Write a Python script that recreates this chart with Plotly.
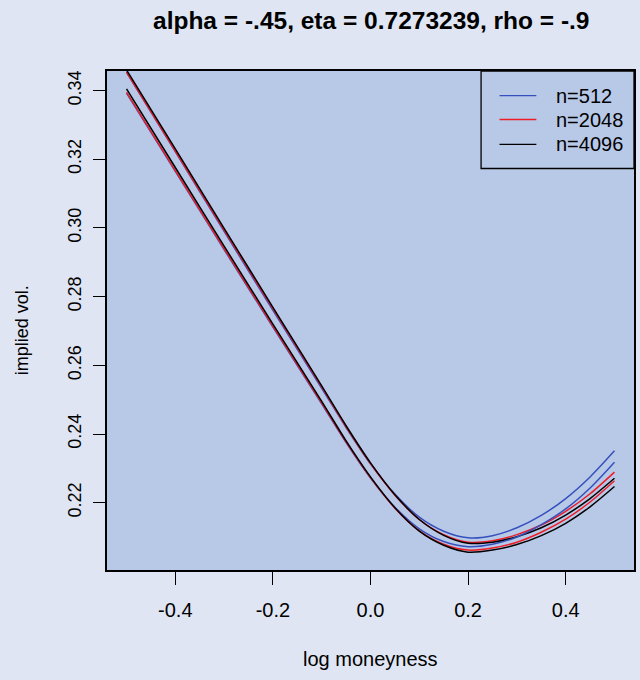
import plotly.graph_objects as go

# ---- data ----
log_moneyness = [-0.5, -0.4, -0.3, -0.2, -0.1, -0.05, 0.0, 0.05, 0.1, 0.15, 0.2,
                 0.25, 0.3, 0.35, 0.4, 0.45, 0.5]

iv_a_512 = [0.3453, 0.3222, 0.2990, 0.2760, 0.2533, 0.2419, 0.2313, 0.2225, 0.2158,
            0.2117, 0.2098, 0.2104, 0.2127, 0.2163, 0.2212, 0.2275, 0.2351]
iv_a_2048 = [0.3454, 0.3224, 0.2994, 0.2765, 0.2537, 0.2421, 0.2314, 0.2222, 0.2151,
             0.2107, 0.2085, 0.2089, 0.2107, 0.2135, 0.2175, 0.2226, 0.2289]
iv_a_4096 = [0.3460, 0.3230, 0.2999, 0.2769, 0.2540, 0.2424, 0.2316, 0.2223, 0.2151,
             0.2105, 0.2082, 0.2085, 0.2101, 0.2127, 0.2164, 0.2212, 0.2271]
iv_b_512 = [0.3393, 0.3165, 0.2937, 0.2711, 0.2488, 0.2375, 0.2272, 0.2187, 0.2124,
            0.2087, 0.2072, 0.2079, 0.2100, 0.2136, 0.2182, 0.2243, 0.2318]
iv_b_2048 = [0.3395, 0.3167, 0.2940, 0.2714, 0.2491, 0.2377, 0.2273, 0.2184, 0.2118,
             0.2079, 0.2062, 0.2068, 0.2085, 0.2114, 0.2152, 0.2202, 0.2264]
iv_b_4096 = [0.3405, 0.3176, 0.2947, 0.2720, 0.2495, 0.2380, 0.2275, 0.2185, 0.2117,
             0.2076, 0.2056, 0.2062, 0.2078, 0.2104, 0.2140, 0.2188, 0.2247]

series_names = ["n=512", "n=2048", "n=4096"]
x_tick_vals = [-0.4, -0.2, 0.0, 0.2, 0.4]
x_tick_text = ["-0.4", "-0.2", "0.0", "0.2", "0.4"]
y_tick_vals = [0.22, 0.24, 0.26, 0.28, 0.30, 0.32, 0.34]
y_tick_text = ["0.22", "0.24", "0.26", "0.28", "0.30", "0.32", "0.34"]

title_text = "alpha = -.45, eta = 0.7273239, rho = -.9"
x_title = "log moneyness"
y_title = "implied vol."

# ---- styling ----
colors = {"n=512": "#3550bd", "n=2048": "#ee1d27", "n=4096": "#000000"}
FONT = "Liberation Sans, Arial, Helvetica, sans-serif"
PAPER_BG = "#dfe5f2"
PLOT_BG = "#b8c9e8"

fig = go.Figure()
groups = [
    [iv_a_512, iv_a_2048, iv_a_4096],
    [iv_b_512, iv_b_2048, iv_b_4096],
]
for grp in groups:
    for name, ys in zip(series_names, grp):
        fig.add_trace(go.Scatter(
            x=log_moneyness, y=ys, mode="lines", name=name,
            line=dict(color=colors[name], width=1.5, shape="spline", smoothing=0.8),
            showlegend=False, hoverinfo="skip"))

# plot area pixels: left 107, right 636, top 71, bottom 570
L, R, T, B = 107, 636, 71, 570
W, H = 640, 680
pw, ph = R - L, B - T

def px(xp):
    return (xp - L) / pw

def py(yp):
    return (B - yp) / ph

fig.update_layout(
    width=W, height=H,
    margin=dict(l=L, r=W - R, t=T, b=H - B, pad=0),
    paper_bgcolor=PAPER_BG, plot_bgcolor=PLOT_BG,
    font=dict(family=FONT, color="#000000"),
    showlegend=False,
)
fig.update_xaxes(
    range=[-0.54, 0.54], showgrid=False, zeroline=False,
    showline=True, mirror=True, linecolor="#000000", linewidth=1.5,
    ticks="outside", ticklen=13, tickwidth=1.3, tickcolor="#000000",
    tickvals=x_tick_vals, ticktext=x_tick_text,
    tickfont=dict(size=20, family=FONT), ticklabelstandoff=8,
)
fig.update_yaxes(
    range=[0.2004, 0.3457], showgrid=False, zeroline=False,
    showline=True, mirror=True, linecolor="#000000", linewidth=1.5,
    ticks="outside", ticklen=12, tickwidth=1.3, tickcolor="#000000",
    tickvals=y_tick_vals, ticktext=y_tick_text, tickangle=-90,
    tickfont=dict(size=18, family=FONT), ticklabelstandoff=5,
)

annotations = [
    dict(text="<b>" + title_text + "</b>", x=px(371.5), y=py(21), xref="paper", yref="paper",
         xanchor="center", yanchor="middle", showarrow=False,
         font=dict(size=24.5, family=FONT, color="#000000")),
    dict(text=x_title, x=px(371.5), y=py(659), xref="paper", yref="paper",
         xanchor="center", yanchor="middle", showarrow=False,
         font=dict(size=20, family=FONT, color="#000000")),
    dict(text=y_title, x=px(22), y=py(330), xref="paper", yref="paper",
         xanchor="center", yanchor="middle", showarrow=False, textangle=-90,
         font=dict(size=18, family=FONT, color="#000000")),
]

# manual legend box (R style)
shapes = [dict(type="rect", xref="paper", yref="paper",
               x0=px(482.5), x1=px(R), y0=py(168.5), y1=py(T),
               line=dict(color="#000000", width=1.3), fillcolor="rgba(0,0,0,0)")]
row_y = [95.7, 119.5, 144.3]
for name, ry in zip(series_names, row_y):
    shapes.append(dict(type="line", xref="paper", yref="paper",
                       x0=px(501), x1=px(538), y0=py(ry), y1=py(ry),
                       line=dict(color=colors[name], width=1.3)))
    annotations.append(dict(text=name, x=px(556), y=py(ry), xref="paper", yref="paper",
                            xanchor="left", yanchor="middle", showarrow=False,
                            font=dict(size=20, family=FONT, color="#000000")))

fig.update_layout(annotations=annotations, shapes=shapes)
fig.write_html("out.html")
